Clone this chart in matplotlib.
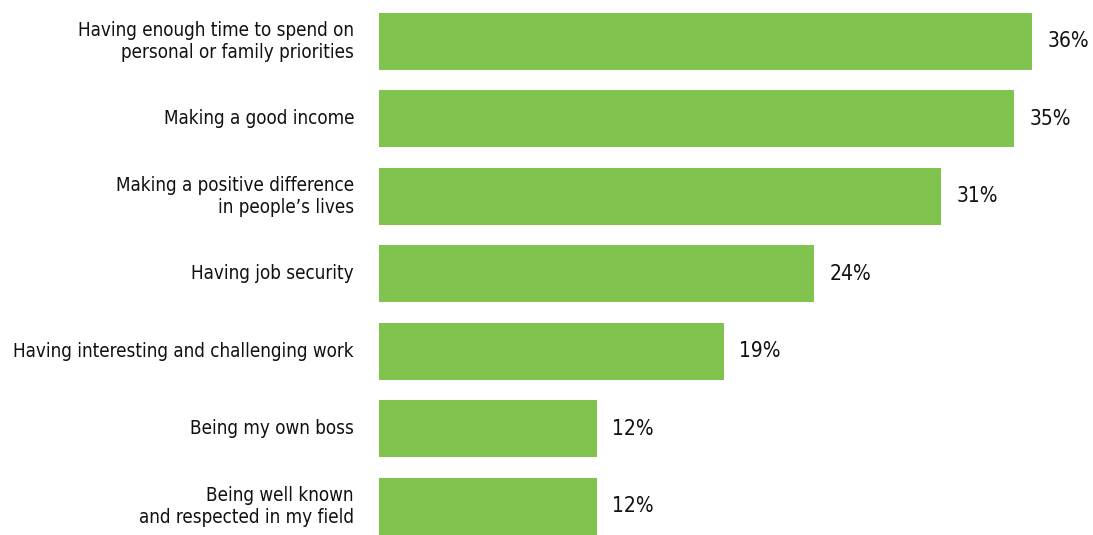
import matplotlib.pyplot as plt

labels = [
    "Having enough time to spend on\npersonal or family priorities",
    "Making a good income",
    "Making a positive difference\nin people\u2019s lives",
    "Having job security",
    "Having interesting and challenging work",
    "Being my own boss",
    "Being well known\nand respected in my field",
]
values = [36, 35, 31, 24, 19, 12, 12]

plt.rcParams["font.family"] = ["DejaVu Sans"]
plt.rcParams["font.stretch"] = "condensed"

fig = plt.figure(figsize=(10.93, 5.35), dpi=100)
ax = fig.add_axes([379 / 1093, 0, 714 / 1093, 1])

pos = list(range(len(values)))
ax.barh(pos, values, height=0.735, color="#80C34E")
ax.set_xlim(0, 714 / 18.14)
ax.set_ylim(6.368, -0.535)

# percent labels to the right of each bar
for y, v in zip(pos, values):
    ax.annotate(f"{v}%", (v, y), xytext=(11, 0), textcoords="offset points",
                va="center", ha="left", fontsize=15, color="#111111",
                fontstretch="condensed")

# category labels, right aligned left of the bars
for y, lab in zip(pos, labels):
    ax.annotate(lab, (0, y), xytext=(-18, 0), textcoords="offset points",
                va="center", ha="right", fontsize=13.5, color="#111111",
                fontstretch="condensed", linespacing=1.2,
                annotation_clip=False)

ax.axis("off")
fig.savefig("out.png", dpi=100)
